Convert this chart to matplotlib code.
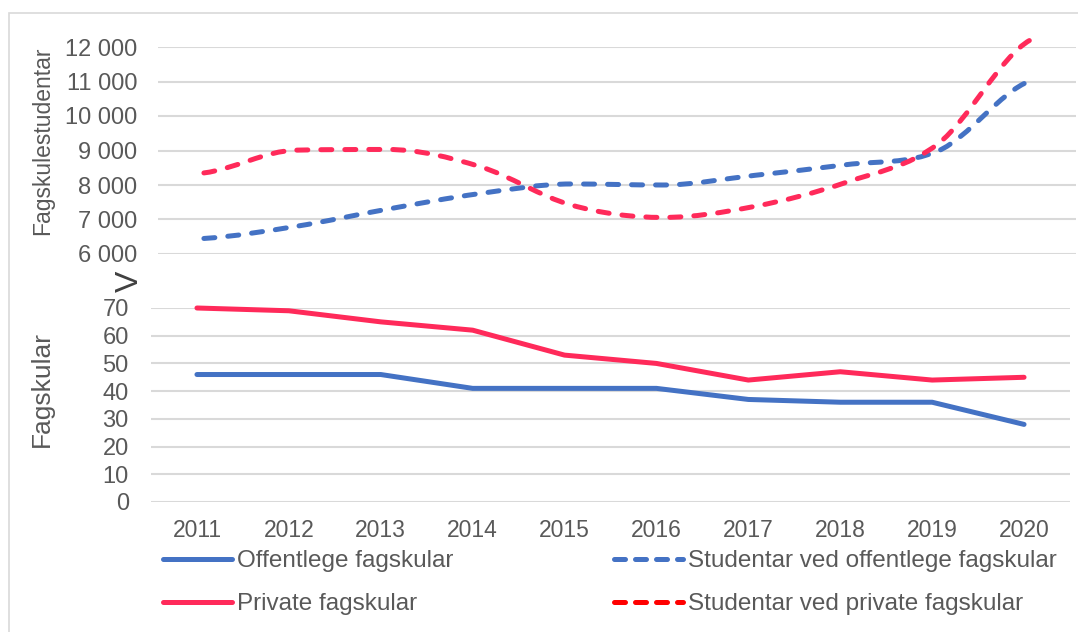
import matplotlib
matplotlib.use("Agg")
import matplotlib.pyplot as plt
from matplotlib.path import Path
from matplotlib.patches import PathPatch, Rectangle
from matplotlib.lines import Line2D
import numpy as np

plt.rcParams['font.family'] = ['Liberation Sans', 'DejaVu Sans']

years = ["2011", "2012", "2013", "2014", "2015", "2016", "2017", "2018", "2019", "2020"]
off_schools = [46, 46, 46, 41, 41, 41, 37, 36, 36, 28]
priv_schools = [70, 69, 65, 62, 53, 50, 44, 47, 44, 45]
off_students = [6450, 6800, 7300, 7750, 8030, 8000, 8280, 8590, 8990, 11020]
priv_students = [8350, 9010, 9030, 8540, 7420, 7060, 7380, 8080, 9200, 12200]

top_ticks = [6000, 7000, 8000, 9000, 10000, 11000, 12000]
top_ticklabels = ["6 000", "7 000", "8 000", "9 000", "10 000", "11 000", "12 000"]
bot_ticks = [0, 10, 20, 30, 40, 50, 60, 70]

labels = ["Offentlege fagskular", "Private fagskular",
          "Studentar ved offentlege fagskular", "Studentar ved private fagskular"]

BLUE = "#4472C4"
PINK = "#FF2A5A"
RED = "#FF0000"
TXT = "#595959"
GRID = "#D9D9D9"
FS = 16.5
LFS = 17.5

W, H = 1078, 632
fig = plt.figure(figsize=(W / 100, H / 100), dpi=100)


def rect(l, t, r, b):
    return [l / W, 1 - b / H, (r - l) / W, (b - t) / H]


def smooth_path(xs, ys):
    """Cubic Bezier path through the data points (Catmull-Rom tangents,
    limited Fritsch-Carlson style to avoid overshoot on plateaus)."""
    xs = np.asarray(xs, float)
    ys = np.asarray(ys, float)
    n = len(ys)
    d = np.diff(ys)
    m = np.empty(n)
    m[0] = d[0] / 2
    m[-1] = d[-1] / 2
    m[1:-1] = (ys[2:] - ys[:-2]) / 2
    for k in range(n - 1):
        if d[k] == 0:
            m[k] = m[k + 1] = 0
            continue
        a = m[k] / d[k]
        b = m[k + 1] / d[k]
        if a < 0:
            m[k] = 0
            a = 0
        if b < 0:
            m[k + 1] = 0
            b = 0
        s = a * a + b * b
        if s > 9:
            t = 3 / np.sqrt(s)
            m[k] = t * a * d[k]
            m[k + 1] = t * b * d[k]
    verts = [(xs[0], ys[0])]
    codes = [Path.MOVETO]
    for i in range(n - 1):
        h = xs[i + 1] - xs[i]
        verts += [(xs[i] + h / 3, ys[i] + m[i] / 3),
                  (xs[i + 1] - h / 3, ys[i + 1] - m[i + 1] / 3),
                  (xs[i + 1], ys[i + 1])]
        codes += [Path.CURVE4] * 3
    return Path(verts, codes)


dash = (0, (2.2, 2.6))
LW = 3.6

# top axes: students
axt = fig.add_axes(rect(158, 47, 1076, 254))
x = np.arange(len(years))
for vals, col in [(off_students, BLUE), (priv_students, PINK)]:
    pp = PathPatch(smooth_path(x, vals), facecolor="none", edgecolor=col,
                   lw=LW, linestyle=dash, capstyle="round", joinstyle="round",
                   clip_on=False)
    axt.add_patch(pp)
axt.set_xlim(-0.5, len(years) - 0.5)
axt.set_ylim(6000, 12000)
axt.set_yticks(top_ticks)
axt.set_yticklabels(top_ticklabels)
axt.set_xticks([])
axt.yaxis.grid(True, color=GRID, lw=1.5)
axt.set_axisbelow(True)
axt.tick_params(axis="y", length=0, pad=15, labelsize=17, labelcolor=TXT)
for s in axt.spines.values():
    s.set_visible(False)

# bottom axes: schools
axb = fig.add_axes(rect(151, 308, 1070, 502))
axb.plot(x, off_schools, color=BLUE, lw=LW, solid_capstyle="round", solid_joinstyle="round", clip_on=False)
axb.plot(x, priv_schools, color=PINK, lw=LW, solid_capstyle="round", solid_joinstyle="round", clip_on=False)
axb.set_xlim(-0.5, len(years) - 0.5)
axb.set_ylim(0, 70)
axb.set_yticks(bot_ticks)
axb.set_xticks(x)
axb.set_xticklabels(years)
axb.yaxis.grid(True, color=GRID, lw=1.5)
axb.set_axisbelow(True)
axb.tick_params(axis="y", length=0, pad=16, labelsize=17, labelcolor=TXT)
axb.tick_params(axis="x", length=0, pad=12, labelsize=FS, labelcolor=TXT)
for s in axb.spines.values():
    s.set_visible(False)

# axis titles
fig.text(43 / W, 1 - 141 / H, "Fagskulestudentar", rotation=90, ha="center", va="center",
         fontsize=16.5, color=TXT)
fig.text(42 / W, 1 - 389 / H, "Fagskular", rotation=90, ha="center", va="center",
         fontsize=19, color=TXT)
# axis break mark
fig.text(130 / W, 1 - 281 / H, "V", rotation=90, ha="center", va="center",
         fontsize=23, color="#404040")

# legend
handles = [
    Line2D([], [], color=BLUE, lw=LW, solid_capstyle="round"),
    Line2D([], [], color=PINK, lw=LW, solid_capstyle="round"),
    Line2D([], [], color=BLUE, lw=LW, linestyle=(0, (2.2, 2.0)), dash_capstyle="round"),
    Line2D([], [], color=RED, lw=LW, linestyle=(0, (2.2, 2.0)), dash_capstyle="round"),
]
leg = fig.legend(handles, labels, ncol=2, loc="upper left",
                 bbox_to_anchor=(163 / W, 1 - 550 / H), frameon=False,
                 fontsize=LFS, handlelength=2.84, handletextpad=0.2,
                 columnspacing=6.6, labelspacing=0.88, borderpad=0, borderaxespad=0)
for t in leg.get_texts():
    t.set_color(TXT)

# outer border
fig.patches.append(Rectangle((9 / W, -0.01), 1.02, 1 - 13 / H + 0.01, transform=fig.transFigure,
                             facecolor="none", edgecolor=GRID, lw=1.2))

fig.savefig("out.png", dpi=100)
